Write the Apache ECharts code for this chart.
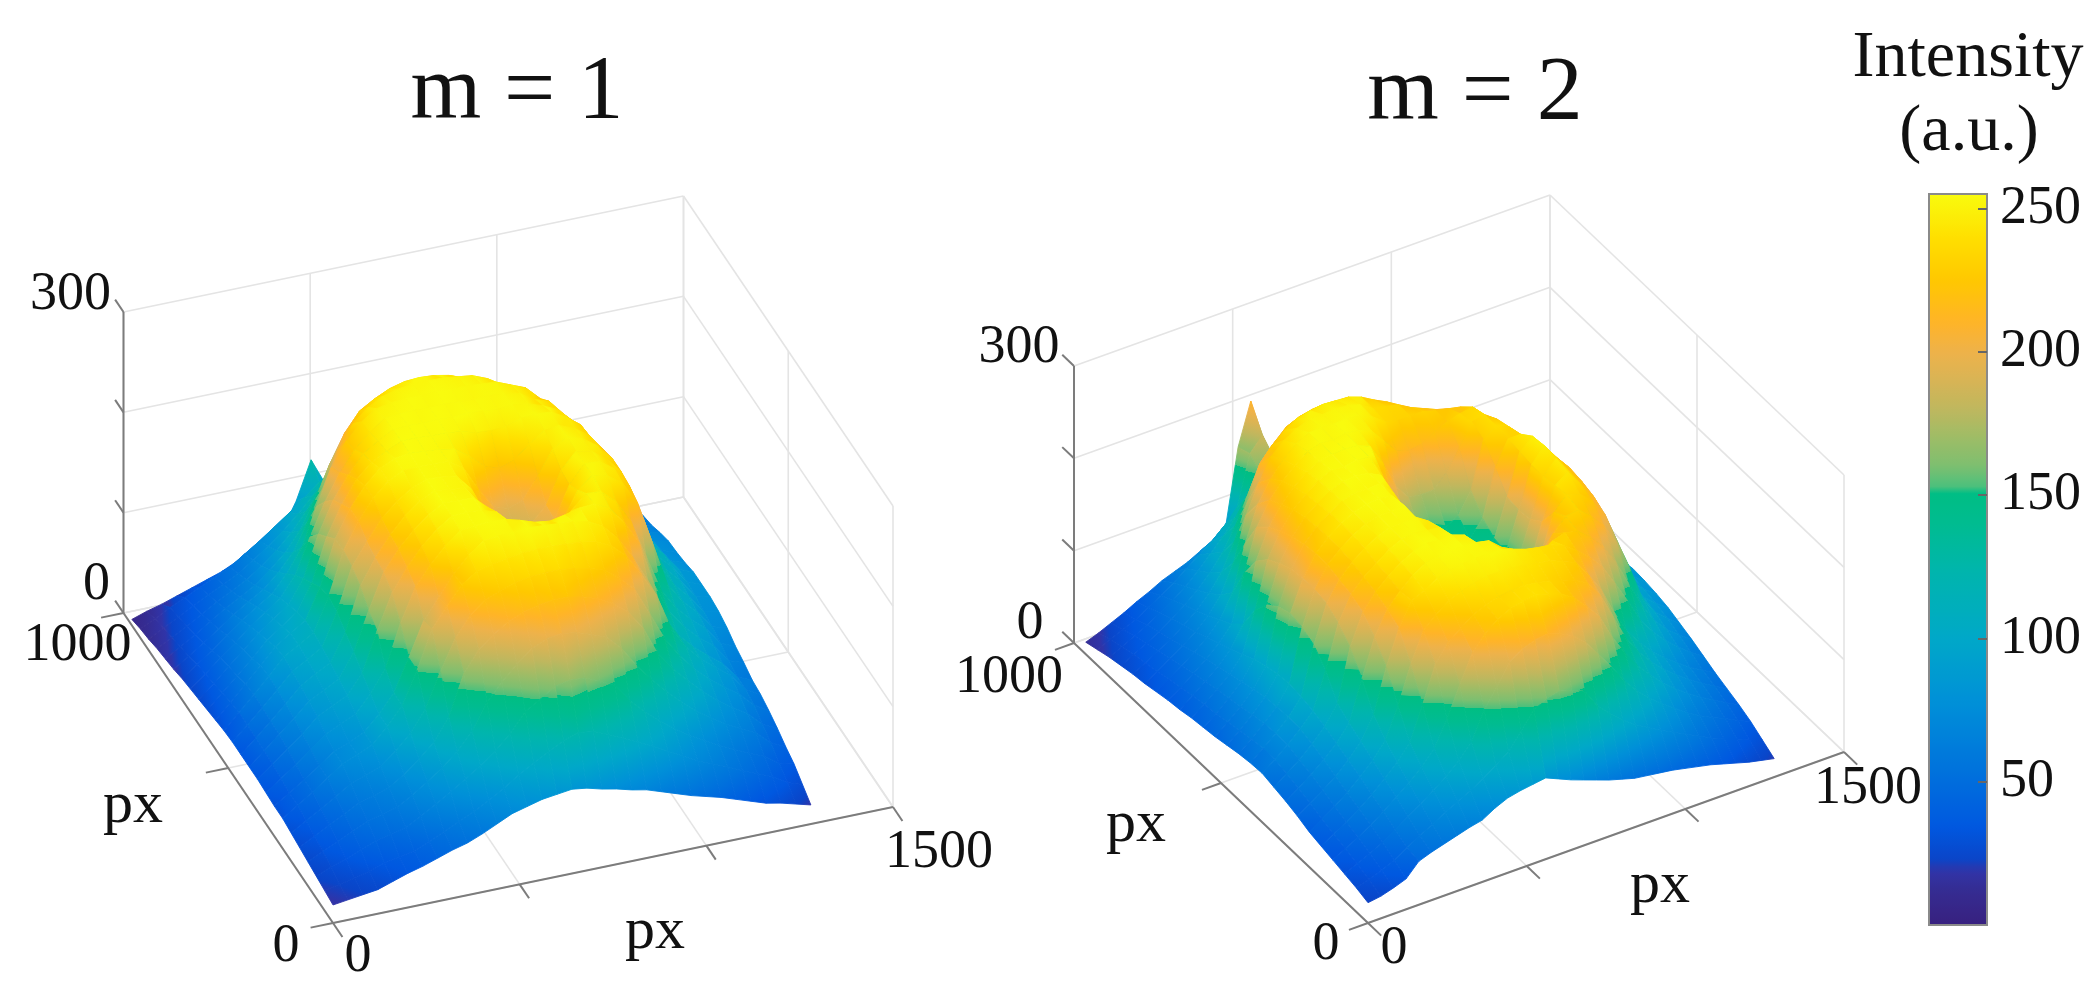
<!DOCTYPE html>
<html><head><meta charset="utf-8"><title>Intensity surfaces</title>
<style>html,body{margin:0;padding:0;background:#fff}#c{width:2097px;height:999px}</style>
<script src="https://cdn.jsdelivr.net/npm/echarts@6/dist/echarts.min.js"></script></head>
<body><div id="c"></div><script>
const titles=['m = 1','m = 2'];
const colorbarTitle=['Intensity','(a.u.)'];
const xPositions=[0,40,80,120,160,200,240,280,320,360,400,440,480,520,560,600,640,680,720,760,800,840,880,920,960,1000,1040,1080,1120,1160,1200,1240,1280];
const yPositions=[0,40,80,120,160,200,240,280,320,360,400,440,480,520,560,600,640,680,720,760,800,840,880,920,960];
const surfaceM1=[
[18,20,22,24,29,34,38,43,48,52,58,65,72,76,80,82,84,82,78,75,71,68,63,58,53,49,45,40,35,30,27,23,19],
[20,23,26,30,35,38,41,47,54,61,68,76,85,95,104,112,120,125,123,117,110,103,96,88,80,72,66,60,53,47,41,32,27],
[22,28,33,39,45,48,52,60,69,78,88,98,110,124,143,152,162,165,164,158,150,132,118,106,95,85,77,69,62,55,49,39,35],
[24,31,38,45,52,56,60,69,79,90,103,120,146,163,178,190,197,199,197,192,186,172,152,135,120,106,94,84,75,67,60,47,40],
[26,34,42,50,58,62,67,77,89,103,125,165,186,198,208,214,218,220,220,217,212,204,193,174,145,127,112,98,86,76,67,53,46],
[28,37,46,55,65,70,76,88,103,124,158,188,208,220,226,231,234,235,235,233,230,225,214,200,173,145,125,108,95,84,74,60,51],
[30,40,50,61,72,78,85,100,118,150,188,208,226,236,240,243,245,246,246,245,244,241,234,221,200,176,140,118,103,91,80,63,55],
[30,40,50,61,72,78,85,100,118,150,184,204,224,240,251,253,254,255,254,253,252,249,241,226,204,178,140,118,103,91,80,63,57],
[31,42,53,65,77,84,91,108,130,172,205,224,240,252,254,255,254,250,245,243,246,250,251,244,226,203,158,128,110,96,85,67,62],
[32,44,56,68,82,90,97,116,155,190,212,230,244,254,255,254,249,235,220,211,220,235,249,248,235,212,175,138,117,102,90,72,66],
[32,45,58,71,85,93,101,125,163,198,218,234,246,255,254,254,241,213,196,191,196,213,240,252,248,238,215,172,128,108,94,76,72],
[32,45,59,73,88,97,105,132,175,200,220,236,248,255,253,251,233,201,185,183,185,201,233,251,250,240,220,182,135,112,97,79,76],
[32,46,60,75,90,99,108,140,182,204,224,238,248,254,253,251,235,203,188,184,188,203,235,251,248,238,222,188,142,115,100,82,78],
[31,46,61,76,92,101,110,143,186,212,232,246,253,254,254,253,244,220,199,194,199,220,244,253,248,238,222,188,142,116,102,84,78],
[29,44,59,74,90,100,110,140,185,212,232,246,253,255,254,253,250,240,227,222,227,240,250,252,246,236,218,182,138,116,102,84,78],
[27,41,55,69,84,95,106,132,175,204,226,240,248,255,255,254,254,252,248,247,248,253,254,253,245,234,212,172,134,113,99,80,75],
[25,38,52,65,79,90,101,124,165,196,218,236,246,254,255,254,255,254,255,254,253,254,252,247,240,226,202,160,128,109,96,78,73],
[23,35,48,60,73,84,95,115,150,182,208,228,242,253,254,255,254,255,254,253,254,253,250,241,236,220,190,145,120,104,92,75,72],
[21,32,43,55,67,77,87,104,127,165,201,224,240,250,253,254,254,255,254,254,253,252,246,240,226,205,170,130,108,96,87,71,68],
[18,28,38,49,60,70,79,93,110,138,168,203,226,239,247,251,253,253,253,251,249,243,232,226,206,175,140,115,99,89,81,66,63],
[16,25,34,44,54,62,71,83,97,116,143,176,204,223,232,239,243,244,243,240,234,226,210,200,172,142,118,102,90,82,75,62,60],
[14,22,30,39,48,56,64,75,87,102,120,141,165,190,204,214,220,223,221,216,206,197,178,152,131,115,102,91,81,74,69,58,56],
[11,19,27,35,43,50,58,68,79,91,105,120,135,148,163,178,186,190,188,181,168,155,140,124,112,101,91,82,74,68,64,54,52],
[9,16,24,31,38,45,52,62,72,83,94,106,118,128,134,140,144,146,145,140,134,126,117,107,98,90,82,74,67,62,59,50,48],
[6,11,15,20,25,30,35,42,50,56,62,90,128,100,110,114,118,118,116,112,108,102,95,88,82,75,68,61,56,52,49,47,45]
];
const surfaceM2=[
[22,24,28,33,47,52,56,60,64,67,75,81,84,86,88,82,76,71,66,61,57,53,51,49,47,44,41,38,34,30,26,23,20],
[26,30,35,41,50,58,65,73,80,87,95,104,114,132,150,156,160,156,150,129,116,104,94,86,78,71,64,57,50,44,39,33,28],
[29,35,41,48,57,66,75,85,95,107,122,152,172,194,203,208,210,205,198,186,168,150,130,114,101,90,80,70,62,55,49,42,36],
[32,39,47,55,65,75,86,98,113,140,172,202,218,228,235,238,240,236,231,222,208,192,165,143,124,109,95,84,74,65,57,49,42],
[35,43,51,60,71,83,96,112,148,187,206,216,226,232,236,238,238,236,233,228,224,216,198,170,142,122,106,93,82,72,63,55,47],
[38,47,56,66,78,91,108,140,180,212,224,234,240,244,246,246,245,243,240,238,232,226,208,187,158,132,115,100,88,78,68,60,52],
[43,52,61,71,84,99,123,170,207,232,238,246,250,252,253,253,253,248,243,240,238,232,222,210,195,172,148,122,104,90,78,67,58],
[47,56,66,77,90,107,150,190,215,230,242,250,253,255,254,253,250,238,222,214,216,225,229,226,215,200,178,150,122,100,85,74,64],
[50,60,70,82,96,116,172,205,222,234,244,251,255,253,254,249,228,202,186,178,182,193,216,230,232,220,205,182,150,112,92,80,69],
[53,63,74,86,101,140,186,212,226,236,246,252,254,252,250,231,194,168,155,150,153,162,184,222,236,232,220,200,165,118,96,84,74],
[52,63,74,87,104,155,195,216,230,240,248,253,253,254,245,208,170,150,142,138,138,140,158,200,234,244,226,208,180,130,100,87,77],
[50,61,73,86,106,162,198,220,232,242,249,253,253,255,235,192,159,143,140,138,136,134,150,190,232,246,228,212,188,140,104,89,79],
[47,58,70,84,104,165,198,220,233,243,250,254,255,253,234,190,157,143,141,139,135,134,148,188,232,248,230,214,190,142,106,90,80],
[44,55,67,81,101,160,196,218,232,242,250,254,253,254,240,192,158,145,140,138,135,136,150,190,234,246,228,212,186,136,102,88,78],
[42,52,64,77,96,150,190,214,230,240,249,254,255,253,246,205,170,148,142,140,140,143,160,210,236,236,225,206,176,128,98,85,76],
[40,50,61,73,89,132,182,208,226,238,248,254,253,255,254,230,190,160,150,148,148,155,178,228,238,232,218,198,165,120,95,83,74],
[37,47,58,69,83,105,168,200,220,234,245,252,254,255,254,248,225,195,178,176,176,190,212,235,238,228,210,186,150,112,91,80,71],
[35,44,54,65,77,93,143,188,212,228,240,250,254,253,255,253,248,232,216,212,214,222,228,232,234,220,198,168,132,104,87,76,68],
[32,41,50,60,71,85,110,158,196,218,234,246,253,254,253,254,252,246,236,232,232,232,228,225,222,205,178,148,116,97,82,72,64],
[29,37,46,55,65,78,95,125,172,202,226,238,246,251,251,252,251,247,238,235,232,224,218,212,202,178,150,122,104,88,76,67,60],
[27,34,42,50,60,71,85,103,131,168,205,221,232,240,243,245,244,243,238,230,223,213,198,185,165,140,118,102,90,78,69,62,56],
[24,31,38,46,55,65,76,90,107,131,160,190,205,218,224,227,228,226,220,210,203,180,155,131,116,103,92,82,74,67,61,56,52],
[21,27,34,41,49,58,68,80,94,108,124,143,158,172,188,198,201,198,182,168,152,136,123,110,100,91,82,74,67,61,56,52,48],
[17,23,29,35,43,51,60,70,80,90,102,117,170,185,146,148,150,148,143,136,127,118,109,100,92,84,76,69,63,57,53,48,45],
[13,18,24,30,37,43,50,55,60,67,74,82,165,210,130,130,135,132,128,124,118,110,103,95,88,80,72,65,60,54,50,46,42]
];
const zTicks=[0,100,200,300];
const xTicks=[0,500,1000,1500];
const yTicks=[0,500,1000];
const colorTicks=[50,100,150,200,250];
const paletteNodes=[[0,'#38207f'],[12,'#352c92'],[19,'#3034a8'],[23,'#0a45c8'],[34,'#0058e0'],[56,'#0075dc'],[78,'#0090d8'],[100,'#00a8c8'],[123,'#00b5ad'],[140,'#00bc90'],[152.9,'#00be82'],[153,'#4cc07c'],[160,'#7dbf70'],[170,'#9ebc66'],[180,'#bfb75e'],[190,'#d8b455'],[200,'#eeb24a'],[210,'#ffb428'],[225,'#ffc800'],[240,'#ffe000'],[255,'#f9fb0e']];

[surfaceM1,surfaceM2].forEach(s=>{if(s.length!==yPositions.length)throw new Error('rows '+s.length);s.forEach((r,i)=>{if(r.length!==xPositions.length)throw new Error('row '+i+' len '+r.length)})});

function colorAt(v){
  v=Math.max(0,Math.min(255,v));
  for(let k=1;k<paletteNodes.length;k++){
    const a=paletteNodes[k-1],b=paletteNodes[k];
    if(v<=b[0])return echarts.color.lerp((v-a[0])/(b[0]-a[0]),[a[1],b[1]]);
  }
  return paletteNodes[paletteNodes.length-1][1];
}
function fillFor(pA,zA,pB,zB){
  const dx=pB[0]-pA[0],dy=pB[1]-pA[1];
  if(dx*dx+dy*dy<1||zB-zA<0.5)return colorAt((zA+zB)/2);
  const stops=[{offset:0,color:colorAt(zA)}];
  paletteNodes.forEach(n=>{if(n[0]>zA&&n[0]<zB)stops.push({offset:(n[0]-zA)/(zB-zA),color:colorAt(n[0])})});
  stops.push({offset:1,color:colorAt(zB)});
  return {type:'linear',x:pA[0],y:pA[1],x2:pB[0],y2:pB[1],global:true,colorStops:stops};
}
const views=[
 {o:[333,923],xv:[560,-116],yv:[-209.5,-310],zv:-301,xr:[0,1040],surface:surfaceM1,
  offs:{z300:[-53,-17],z0:[-27,-28],y1000:[-46,33],y0:[-47,24],x0:[25,34],x1500:[46,46]},pxY:[133,806],pxX:[655,932]},
 {o:[1368,923],xv:[476,-171],yv:[-294,-280],zv:-277,xr:[1040,1920],surface:surfaceM2,
  offs:{z300:[-55,-18],z0:[-44,-19],y1000:[-65,35],y0:[-42,22],x0:[26,26],x1500:[24,37]},pxY:[1136,825],pxX:[1660,886]}
];
function proj(v,x,y,z){return [v.o[0]+v.xv[0]*x/1500+v.yv[0]*y/1000, v.o[1]+v.xv[1]*x/1500+v.yv[1]*y/1000+v.zv*z/300];}

const FONT='"Liberation Serif","Times New Roman",serif';
const series=[],grids=[],xAxes=[],yAxes=[];
views.forEach((v,g)=>{
  grids.push({left:v.xr[0],top:0,width:v.xr[1]-v.xr[0],height:999,show:false});
  xAxes.push({type:'value',gridIndex:g,min:v.xr[0],max:v.xr[1],show:false});
  yAxes.push({type:'value',gridIndex:g,min:0,max:999,inverse:true,show:false});
  const gridLines=[];
  xTicks.forEach(x=>{gridLines.push([x,0,0,x,1000,0]);gridLines.push([x,1000,0,x,1000,300]);});
  yTicks.forEach(y=>{gridLines.push([0,y,0,1500,y,0]);gridLines.push([1500,y,0,1500,y,300]);});
  zTicks.forEach(z=>{gridLines.push([0,1000,z,1500,1000,z]);gridLines.push([1500,1000,z,1500,0,z]);});
  const lineItem=(color,width)=>function(p,api){
    const a=api.coord(proj(v,api.value(0),api.value(1),api.value(2)));
    const b=api.coord(proj(v,api.value(3),api.value(4),api.value(5)));
    return {type:'line',shape:{x1:a[0],y1:a[1],x2:b[0],y2:b[1]},style:{stroke:color,lineWidth:width}};
  };
  series.push({type:'custom',name:'walls'+g,xAxisIndex:g,yAxisIndex:g,coordinateSystem:'cartesian2d',clip:false,silent:true,z:1,
    data:gridLines,renderItem:lineItem('#e4e4e4',1.6),encode:{x:-1,y:-1}});
  const axisLines=[[0,0,0,1500,0,0],[0,0,0,0,1000,0],[0,1000,0,0,1000,300]];
  xTicks.forEach(x=>axisLines.push([x,0,0,x,-45,0]));
  yTicks.forEach(y=>axisLines.push([0,y,0,-60,y,0]));
  zTicks.forEach(z=>axisLines.push([0,1000,z,0,1040,z]));
  series.push({type:'custom',name:'axes'+g,xAxisIndex:g,yAxisIndex:g,coordinateSystem:'cartesian2d',clip:false,silent:true,z:2,
    data:axisLines,renderItem:lineItem('#7c7c7c',2),encode:{x:-1,y:-1}});
  const cells=[];
  for(let j=yPositions.length-2;j>=0;j--)for(let i=xPositions.length-2;i>=0;i--){
    const S=v.surface;
    cells.push([xPositions[i],yPositions[j],xPositions[i+1],yPositions[j+1],S[j][i],S[j][i+1],S[j+1][i+1],S[j+1][i]]);
  }
  series.push({type:'custom',name:titles[g],xAxisIndex:g,yAxisIndex:g,coordinateSystem:'cartesian2d',clip:false,silent:true,z:3,
    data:cells,encode:{x:-1,y:-1},
    renderItem(p,api){
      const x0=api.value(0),y0=api.value(1),x1=api.value(2),y1=api.value(3);
      const zs=[api.value(4),api.value(5),api.value(6),api.value(7)];
      const corners=[[x0,y0],[x1,y0],[x1,y1],[x0,y1]];
      const pts=corners.map((c,k)=>api.coord(proj(v,c[0],c[1],zs[k])));
      let lo=0,hi=0;
      zs.forEach((z,k)=>{if(z<zs[lo])lo=k;if(z>zs[hi])hi=k;});
      const fill=fillFor(pts[lo],zs[lo],pts[hi],zs[hi]);
      return {type:'polygon',shape:{points:pts},style:{fill:fill,stroke:fill,lineWidth:0.9}};
    }});
  const labels=[
    ['300',proj(v,0,1000,300),v.offs.z300],
    ['0',proj(v,0,1000,0),v.offs.z0],
    ['1000',proj(v,0,1000,0),v.offs.y1000],
    ['0',proj(v,0,0,0),v.offs.y0],
    ['0',proj(v,0,0,0),v.offs.x0],
    ['1500',proj(v,1500,0,0),v.offs.x1500],
    ['px',v.pxY,[0,0],60],
    ['px',v.pxX,[0,0],60]
  ];
  series.push({type:'custom',name:'labels'+g,xAxisIndex:g,yAxisIndex:g,coordinateSystem:'cartesian2d',clip:false,silent:true,z:4,
    data:labels.map(l=>[l[1][0]+l[2][0],l[1][1]+l[2][1],l[3]||54]),encode:{x:-1,y:-1},
    renderItem(p,api){
      const c=api.coord([api.value(0),api.value(1)]);
      return {type:'text',style:{text:labels[p.dataIndex][0],x:c[0],y:c[1],fill:'#111',font:api.value(2)+'px '+FONT,textAlign:'center',textVerticalAlign:'middle'}};
    }});
});
grids.push({left:1929,top:194,width:58,height:731,show:true,borderColor:'#8a8a8a',borderWidth:2,backgroundColor:'transparent',z:10});
xAxes.push({type:'value',gridIndex:2,min:1,max:2,show:false});
yAxes.push({type:'value',gridIndex:2,min:0,max:255,interval:50,position:'right',z:10,
  axisLine:{show:false,onZero:false},splitLine:{show:false},
  axisTick:{show:true,inside:true,length:9,lineStyle:{color:'#666',width:2}},
  axisLabel:{show:true,showMinLabel:false,showMaxLabel:false,margin:13,color:'#111',fontFamily:FONT,fontSize:54,
    formatter:v=>colorTicks.includes(v)?String(v):''}});
const palette=[];for(let v=0;v<=255;v++)palette.push(colorAt(v));
const chart=echarts.init(document.getElementById('c'),null,{renderer:'canvas',width:2097,height:999});
chart.setOption({
  backgroundColor:'#fff',animation:false,
  title:[
    {text:titles[0],left:512,top:44,textAlign:'center',textStyle:{fontFamily:FONT,fontSize:91,fontWeight:'normal',color:'#111'}},
    {text:titles[1],left:1470,top:44,textAlign:'center',textStyle:{fontFamily:FONT,fontSize:92,fontWeight:'normal',color:'#111'}},
    {text:colorbarTitle[0],left:1963,top:21,textAlign:'center',textStyle:{fontFamily:FONT,fontSize:66,fontWeight:'normal',color:'#111'}},
    {text:colorbarTitle[1],left:1964,top:95,textAlign:'center',textStyle:{fontFamily:FONT,fontSize:66,fontWeight:'normal',color:'#111'}}
  ],
  grid:grids,xAxis:xAxes,yAxis:yAxes,
  visualMap:{type:'continuous',show:true,min:0,max:255,seriesIndex:2,dimension:4,calculable:false,hoverLink:false,
    left:1929,top:194,itemWidth:58,itemHeight:731,text:null,showLabel:false,padding:0,orient:'vertical',
    inRange:{color:palette},outOfRange:{color:palette},textStyle:{color:'transparent',fontSize:1}},
  series:series
});
</script></body></html>
